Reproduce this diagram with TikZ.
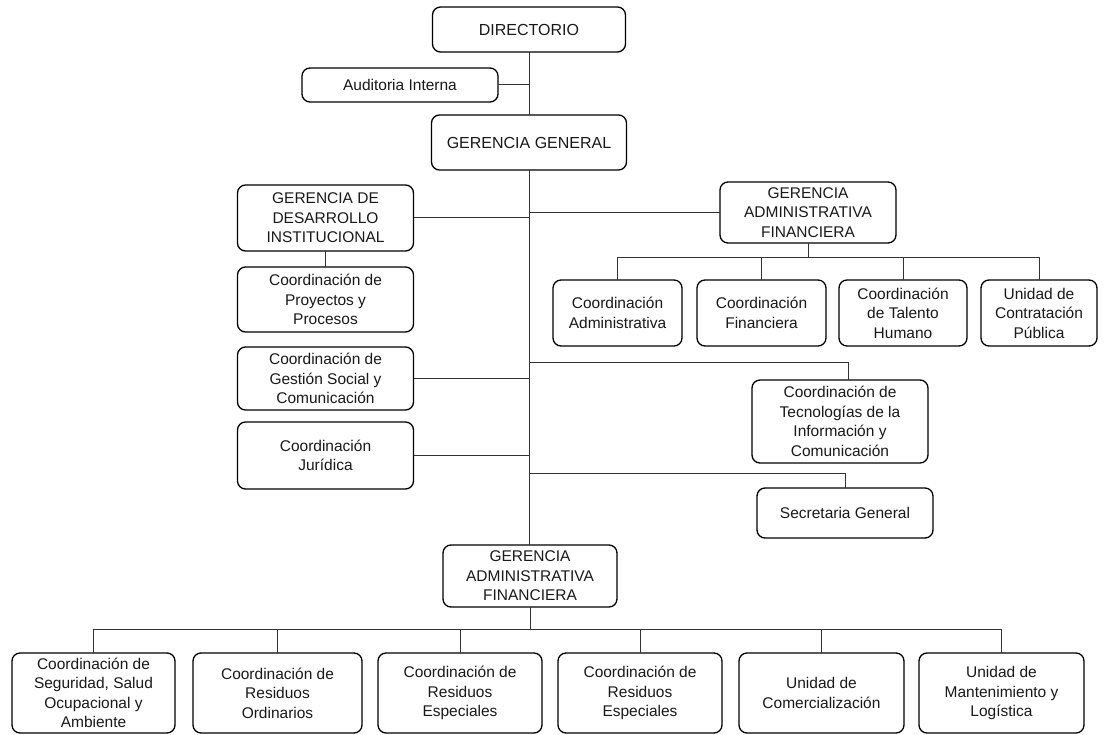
\documentclass[tikz,border=0pt]{standalone}
\usepackage{fontspec}
\setmainfont{Liberation Sans}
\begin{document}
\begin{tikzpicture}[x=1pt,y=-1pt,
  box/.style={draw=black, line width=1.3pt, rounded corners=8pt, align=center,
    inner sep=2pt, outer sep=0pt, font=\fontsize{15.5}{19.5}\selectfont, text=black!90},
  bigbox/.style={box, font=\fontsize{16}{19.5}\selectfont},
  link/.style={draw=black!80, line width=1pt}]
\useasboundingbox[fill=white] (0,0) rectangle (1104,735);

% top
\node[bigbox, minimum width=193pt, minimum height=45pt] (dir) at (529,29.5) {DIRECTORIO};
\node[box, minimum width=196pt, minimum height=34pt] (aud) at (400,85) {Auditoria Interna};
\node[bigbox, minimum width=195pt, minimum height=55pt] (gg) at (529,142.5) {GERENCIA GENERAL};

% left column
\node[box, minimum width=176pt, minimum height=66pt] (gdi) at (325.5,218) {GERENCIA DE\\DESARROLLO\\INSTITUCIONAL};
\node[box, minimum width=176pt, minimum height=65pt] (cpp) at (325.5,299.5) {Coordinación de\\Proyectos y\\Procesos};
\node[box, minimum width=176pt, minimum height=63pt] (cgs) at (325.5,378.5) {Coordinación de\\Gestión Social y\\Comunicación};
\node[box, minimum width=176pt, minimum height=67pt] (jur) at (325.5,455.5) {Coordinación\\Jurídica};

% right upper
\node[box, minimum width=176pt, minimum height=61pt] (gaf1) at (808,212.5) {GERENCIA\\ADMINISTRATIVA\\FINANCIERA};
\node[box, minimum width=129pt, minimum height=66pt] (ta1) at (617.5,313) {Coordinación\\Administrativa};
\node[box, minimum width=129pt, minimum height=66pt] (ta2) at (761.5,313) {Coordinación\\Financiera};
\node[box, minimum width=128pt, minimum height=66pt] (ta3) at (903,313) {Coordinación\\de Talento\\Humano};
\node[box, minimum width=116pt, minimum height=66pt] (ta4) at (1039,313) {Unidad de\\Contratación\\Pública};

\node[box, minimum width=176pt, minimum height=83pt] (tic) at (840,421.5) {Coordinación de\\Tecnologías de la\\Información y\\Comunicación};
\node[box, minimum width=176pt, minimum height=50pt] (sec) at (845,513) {Secretaria General};

% bottom
\node[box, minimum width=174pt, minimum height=62pt] (gaf2) at (530,576) {GERENCIA\\ADMINISTRATIVA\\FINANCIERA};
\node[box, minimum width=163pt, minimum height=80pt] (b1) at (93.5,693) {Coordinación de\\Seguridad, Salud\\Ocupacional y\\Ambiente};
\node[box, minimum width=169pt, minimum height=80pt] (b2) at (277.5,693) {Coordinación de\\Residuos\\Ordinarios};
\node[box, minimum width=164pt, minimum height=80pt] (b3) at (460,693) {Coordinación de\\Residuos\\Especiales};
\node[box, minimum width=164pt, minimum height=80pt] (b4) at (640,693) {Coordinación de\\Residuos\\Especiales};
\node[box, minimum width=165pt, minimum height=80pt] (b5) at (821.5,693) {Unidad de\\Comercialización};
\node[box, minimum width=165pt, minimum height=80pt] (b6) at (1001.5,693) {Unidad de\\Mantenimiento y\\Logística};

% junction coordinates
\coordinate (ticj) at (529,363);
\coordinate (secj) at (529,473);
\coordinate (bar1) at (0,258);
\coordinate (bar2) at (0,629);

% connectors
\draw[link] (dir.south) -- (gg.north);
\draw[link] (aud.east) -- (aud.east -| dir.south);
\draw[link] (gg.south) -- (gg.south |- gaf2.north);
\draw[link] (gdi.east) -- (gdi.east -| gg.south);
\draw[link] (gaf1.west) -- (gaf1.west -| gg.south);
\draw[link] (gdi.south) -- (cpp.north);
\draw[link] (cgs.east) -- (cgs.east -| gg.south);
\draw[link] (jur.east) -- (jur.east -| gg.south);
\draw[link] (ticj) -| ([xshift=8pt]tic.north);
\draw[link] (secj) -| (sec.north);

\draw[link] (gaf1.south) -- (gaf1.south |- bar1);
\draw[link] (ta1.north) |- (bar1 -| ta4.north) -- (ta4.north);
\draw[link] (ta2.north) -- (ta2.north |- bar1);
\draw[link] (ta3.north) -- (ta3.north |- bar1);

\draw[link] (gaf2.south) -- (gaf2.south |- bar2);
\draw[link] (b1.north) |- (bar2 -| b6.north) -- (b6.north);
\draw[link] (b2.north) -- (b2.north |- bar2);
\draw[link] (b3.north) -- (b3.north |- bar2);
\draw[link] (b4.north) -- (b4.north |- bar2);
\draw[link] (b5.north) -- (b5.north |- bar2);
\end{tikzpicture}
\end{document}
